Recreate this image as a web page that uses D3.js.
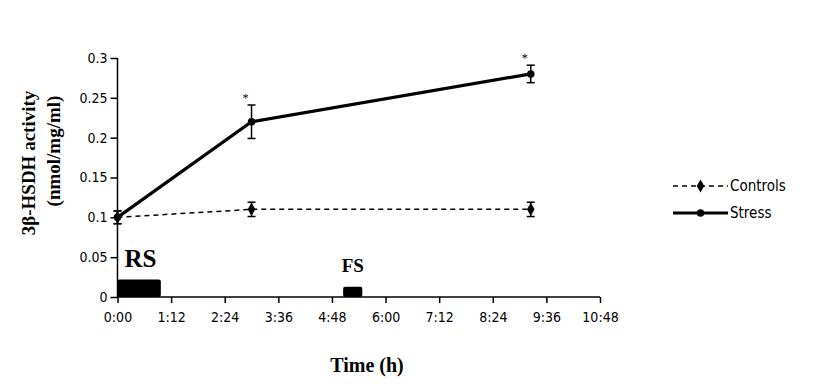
<!DOCTYPE html>
<html><head><meta charset="utf-8">
<script src="https://cdn.jsdelivr.net/npm/d3@7"></script>
<style>body{margin:0;background:#fff}svg{display:block}</style>
</head><body><svg id="c" width="818" height="384"></svg>
<script>
const times = [0, 3, 9.25];
const controls = [0.10, 0.11, 0.11];
const controlsErr = [0.008, 0.009, 0.009];
const stress = [0.10, 0.22, 0.28];
const stressErr = [0.008, 0.021, 0.011];
const yTicks = [0, 0.05, 0.1, 0.15, 0.2, 0.25, 0.3];
const xTicks = [0, 1.2, 2.4, 3.6, 4.8, 6.0, 7.2, 8.4, 9.6, 10.8];
const xTickLabels = ["0:00","1:12","2:24","3:36","4:48","6:00","7:12","8:24","9:36","10:48"];
const periods = [{label:"RS", start:0, end:0.97, level:0.022}, {label:"FS", start:5.05, end:5.48, level:0.013}];
const sigTimes = [3, 9.25];
const sigVals = [0.242, 0.292];

const svg = d3.select("#c");
const x = d3.scaleLinear().domain([0, 10.8]).range([117.5, 600]);
const y = d3.scaleLinear().domain([0, 0.3]).range([297, 58]);
const tickFont = "'Liberation Sans Narrow','Arial Narrow','DejaVu Sans Condensed',sans-serif";
const serif = "'Liberation Serif','Times New Roman',serif";

// axes
const ya = svg.append("g").attr("transform", `translate(${x(0)},0)`)
  .call(d3.axisLeft(y).tickValues(yTicks).tickSize(7).tickPadding(3).tickFormat(d => d === 0 ? "0" : String(+d.toFixed(2))));
const xa = svg.append("g").attr("transform", `translate(0,${y(0)})`)
  .call(d3.axisBottom(x).tickValues(xTicks).tickSize(6).tickPadding(9).tickFormat((d,i) => xTickLabels[i]));
[ya, xa].forEach(g => {
  g.select(".domain").attr("stroke", "#000").attr("stroke-width", 1.5);
  g.selectAll(".tick line").attr("stroke", "#000").attr("stroke-width", 1.5);
  g.selectAll("text").attr("font-family", tickFont).attr("font-size", 14).attr("fill", "#000");
});
ya.select(".domain").attr("d", `M0,${y(0.3)}V${y(0)}`);
xa.select(".domain").attr("d", `M${x(0)},0H${x(10.8)}`);

// period bars
svg.selectAll(".per").data(periods).enter().append("rect")
  .attr("x", d => x(d.start)).attr("width", d => x(d.end) - x(d.start))
  .attr("y", d => y(d.level)).attr("height", d => y(0) - y(d.level))
  .attr("rx", 2).attr("fill", "#000");
svg.selectAll(".perl").data(periods).enter().append("text")
  .attr("x", d => d.label === "RS" ? x(d.start) + 7 : (x(d.start) + x(d.end)) / 2)
  .attr("text-anchor", d => d.label === "RS" ? "start" : "middle")
  .attr("y", d => d.label === "RS" ? 267 : 272)
  .attr("font-family", serif).attr("font-weight", "bold")
  .attr("font-size", d => d.label === "RS" ? 25 : 19).text(d => d.label);

// lines
const mk = (vals) => d3.line().x((d,i) => x(times[i])).y(d => y(d))(vals);
svg.append("path").attr("d", mk(controls)).attr("fill", "none").attr("stroke", "#000")
  .attr("stroke-width", 1.5).attr("stroke-dasharray", "5,4");
svg.append("path").attr("d", mk(stress)).attr("fill", "none").attr("stroke", "#000")
  .attr("stroke-width", 3.2);

// error bars
function errs(vals, err) {
  const g = svg.append("g").attr("stroke", "#000").attr("stroke-width", 1.5);
  vals.forEach((v, i) => {
    const cx = x(times[i]);
    g.append("line").attr("x1", cx).attr("x2", cx).attr("y1", y(v + err[i])).attr("y2", y(v - err[i]));
    g.append("line").attr("x1", cx - 4).attr("x2", cx + 4).attr("y1", y(v + err[i])).attr("y2", y(v + err[i]));
    g.append("line").attr("x1", cx - 4).attr("x2", cx + 4).attr("y1", y(v - err[i])).attr("y2", y(v - err[i]));
  });
}
errs(controls, controlsErr);
errs(stress, stressErr);

// markers
const diamond = d3.symbol().type(d3.symbolDiamond).size(50);
const circle = d3.symbol().type(d3.symbolCircle).size(45);
controls.forEach((v, i) => svg.append("path").attr("d", diamond()).attr("transform", `translate(${x(times[i])},${y(v)})`).attr("fill", "#000"));
stress.forEach((v, i) => svg.append("path").attr("d", circle()).attr("transform", `translate(${x(times[i])},${y(v)})`).attr("fill", "#000"));

// asterisks
sigTimes.forEach((t, i) => svg.append("text").attr("x", x(t) - 6).attr("y", y(sigVals[i]) - 2)
  .attr("text-anchor", "middle").attr("font-family", serif).attr("font-size", 12).text("*"));

// axis titles
svg.append("text").attr("x", 367).attr("y", 372).attr("text-anchor", "middle")
  .attr("font-family", serif).attr("font-weight", "bold")
  .attr("font-size", 20).text("Time (h)");
const yl = svg.append("text").attr("transform", "translate(35,163) rotate(-90)").attr("text-anchor", "middle")
  .attr("font-family", serif).attr("font-weight", "bold").attr("font-size", 19);
yl.append("tspan").attr("x", 0).attr("y", 0).text("3β-HSDH activity");
yl.append("tspan").attr("x", 12).attr("y", 25).text("(nmol/mg/ml)");

// legend
const leg = [{name:"Controls", dash:"5,4", w:1.5, sym:diamond, y:186}, {name:"Stress", dash:null, w:3, sym:circle, y:213}];
leg.forEach(l => {
  svg.append("line").attr("x1", 673).attr("x2", 728).attr("y1", l.y).attr("y2", l.y)
    .attr("stroke", "#000").attr("stroke-width", l.w).attr("stroke-dasharray", l.dash);
  svg.append("path").attr("d", l.sym()).attr("transform", `translate(700.5,${l.y})`).attr("fill", "#000");
  svg.append("text").attr("x", 730).attr("y", l.y + 5).attr("font-family", tickFont).attr("font-size", 15).text(l.name);
});
</script></body></html>
